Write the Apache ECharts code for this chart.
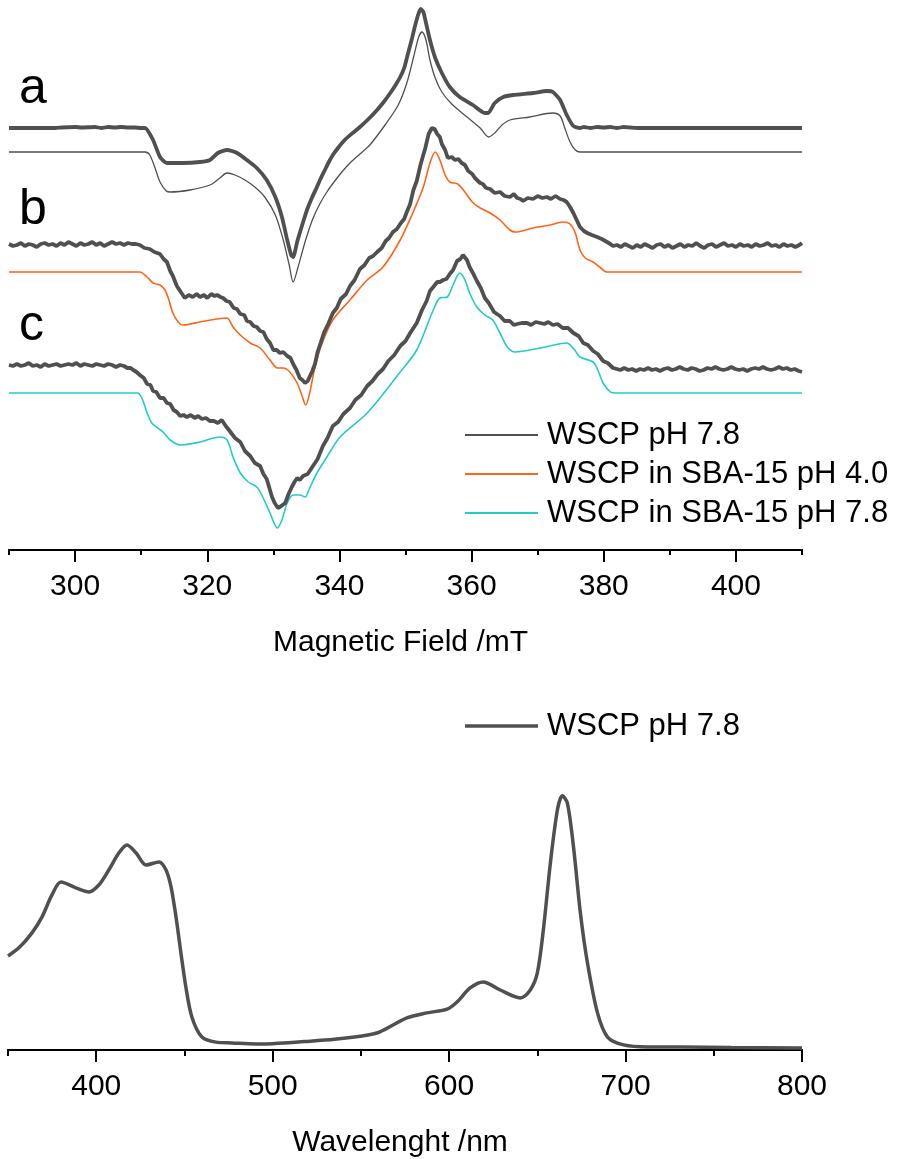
<!DOCTYPE html>
<html>
<head>
<meta charset="utf-8">
<script src="https://cdn.jsdelivr.net/npm/echarts@6/dist/echarts.min.js"></script>
<style>
  html, body { margin: 0; padding: 0; background: #fff; }
  #chart { width: 901px; height: 1159px; }
</style>
</head>
<body>
<div id="chart"></div>
<script>
// ---- EPR spectra: [field (mT), signal (a.u., relative to own baseline)] ----
const eprFieldTicksMajor = [300, 320, 340, 360, 380, 400];
const eprFieldTicksMinor = [290, 310, 330, 350, 370, 390, 410];

// a: WSCP pH 7.8, experimental
const eprA_exp = [
  [290, 0], [297, 0], [298, 0.5], [300, 1], [301, 0.5], [303, 1], [304, 0], [305, 1], [306, 0.5], [307, 1],
  [308, 0.5], [309, 0.5], [310, 0], [310.6, 0], [311.8, -12], [312.85, -29], [313.9, -35], [316.3, -35],
  [318.9, -34], [320.4, -32], [321.6, -25], [323.0, -22], [324.5, -25], [326.0, -32], [327.5, -40],
  [329.0, -52], [330.3, -69], [331.3, -89], [332.1, -112], [332.7, -127], [333.0, -129], [333.6, -114],
  [334.0, -105], [334.6, -92], [335.2, -80], [335.9, -69], [336.6, -59], [337.2, -50], [337.8, -42],
  [338.4, -34], [339.0, -27], [339.9, -19], [340.8, -12], [342.0, -5], [343.1, 1], [344.4, 9], [345.7, 18],
  [346.7, 26], [347.7, 35], [348.5, 43], [349.2, 51], [349.8, 60], [350.4, 75], [351.0, 90], [351.4, 101],
  [351.9, 113], [352.3, 119], [352.7, 116], [353.0, 108], [353.7, 88], [354.5, 70], [355.5, 55],
  [356.7, 41], [358.2, 31], [360.2, 23], [362.0, 15], [362.5, 15], [363.5, 25], [364.8, 31], [366.3, 33],
  [369.3, 35], [371.4, 37], [372.3, 36], [373.4, 28], [374.4, 13], [375.4, 2], [376.4, 0], [377, 1],
  [378, 0], [379, 1], [380, 0.5], [381, 1], [382, 0], [383, 1], [384, 0.5], [385, 0], [410, 0]
];

// a: WSCP pH 7.8, simulated
const eprA_sim = [
  [290, 0], [310.6, 0], [311.3, -3], [312.1, -16], [312.85, -30], [313.8, -39], [314.4, -40], [317.4, -38],
  [320.4, -33], [321.9, -26], [323.0, -21], [324.2, -23], [325.7, -28], [327.2, -35], [328.7, -45],
  [330.3, -63], [331.5, -88], [332.4, -113], [333.0, -130], [333.7, -116], [334.8, -90], [335.9, -68],
  [337.1, -51], [338.2, -39], [339.3, -29], [340.5, -19], [341.6, -11], [343.1, -2], [344.6, 7], [346.9, 27],
  [348.9, 47], [350.2, 69], [351.3, 97], [352.0, 115], [352.5, 120], [353.1, 112], [353.7, 92], [354.5, 74],
  [355.5, 60], [357.0, 48], [359.3, 35], [361.3, 24], [362.6, 15], [363.5, 19], [364.6, 27], [365.8, 32],
  [368.8, 35], [372.3, 39], [373.4, 36], [374.1, 24], [374.9, 10], [375.7, 2], [376.4, 0], [410, 0]
];

// b: WSCP in SBA-15 pH 4.0, experimental
const eprB_exp = [
  [290.0, 1], [290.6, -1], [291.2, 0], [291.8, 2], [292.4, -1], [293.0, 1], [293.6, 0], [294.2, -2],
  [294.8, 1], [295.4, 2], [296.0, 0], [296.6, 1], [297.2, -1], [297.8, 2], [298.4, 0], [299.0, 3],
  [299.6, 1], [300.2, -1], [300.8, 2], [301.4, 0], [302.0, 1], [302.6, 3], [303.2, 0], [303.8, 2],
  [304.4, -1], [305.0, 1], [305.6, 3], [306.2, 1], [306.8, 2], [307.4, 0], [308.0, 2], [308.6, 1],
  [309.2, 1], [309.8, 0], [310.5, -3], [311.3, -4], [312.0, -7], [312.85, -9], [313.4, -14], [313.9, -17],
  [314.4, -26], [314.8, -31], [315.4, -41], [315.9, -46], [316.6, -53], [317.2, -50], [317.8, -52],
  [318.4, -49], [318.9, -52], [319.5, -50], [320.0, -53], [320.6, -49], [321.1, -51], [321.5, -50],
  [322.0, -52], [322.4, -53], [322.9, -56], [323.4, -57], [324.0, -63], [324.5, -64], [325.0, -69],
  [325.6, -70], [326.0, -76], [326.5, -77], [327.0, -81], [327.5, -82], [328.0, -86], [328.5, -87],
  [329.0, -94], [329.5, -98], [330.0, -105], [330.5, -105], [331.0, -108], [331.5, -107], [332.1, -111],
  [332.6, -113], [333.0, -119], [333.5, -125], [334.0, -133], [334.4, -135], [334.8, -138], [335.2, -136],
  [335.5, -135], [335.9, -126], [336.3, -119], [336.7, -107], [337.1, -99], [337.7, -87], [338.3, -79],
  [339.0, -68], [339.6, -63], [340.2, -54], [341.0, -49], [341.6, -41], [342.3, -35], [343.1, -24],
  [343.8, -20], [344.5, -13], [345.1, -11], [345.7, -7], [346.4, -3], [347.0, 4], [347.5, 7], [348.1, 13],
  [348.7, 16], [349.3, 22], [349.8, 26], [350.2, 33], [350.7, 41], [351.2, 55], [351.7, 64], [352.3, 81],
  [353.0, 97], [353.5, 111], [354.0, 117], [354.4, 116], [354.8, 111], [355.2, 108], [355.5, 101],
  [356.0, 95], [356.4, 87], [357.0, 88], [357.5, 85], [358.0, 86], [358.5, 82], [359.0, 80], [359.5, 74],
  [360.1, 71], [360.5, 67], [360.8, 66], [361.3, 62], [361.7, 61], [362.2, 57], [362.8, 56], [363.5, 52],
  [364.3, 53], [365.0, 49], [365.8, 48], [366.4, 51], [366.9, 47], [367.4, 46], [367.8, 44], [368.5, 47],
  [369.3, 46], [370.0, 49], [370.7, 47], [371.4, 48], [372.0, 46], [372.7, 49], [373.4, 46], [373.9, 45],
  [374.4, 43], [374.9, 38], [375.4, 32], [375.9, 25], [376.4, 18], [377.0, 14], [377.5, 12], [378.2, 10],
  [379.0, 8], [379.7, 6], [380.5, 3], [381.0, 1], [381.4, -1], [382.0, 0], [382.6, -2], [383.2, 1],
  [383.8, -1], [384.4, -3], [385.0, 0], [385.6, -2], [386.2, 1], [386.8, -1], [387.4, -3], [388.0, 0],
  [388.6, 1], [389.2, -2], [389.8, 0], [390.4, -3], [391.0, -1], [391.6, 1], [392.2, -2], [392.8, 0],
  [393.4, -1], [394.0, 2], [394.6, -1], [395.2, -3], [395.8, 0], [396.4, 1], [397.0, -2], [397.6, 0],
  [398.2, 2], [398.8, -1], [399.4, 0], [400.0, -2], [400.6, 1], [401.2, -1], [401.8, 0], [402.4, -2],
  [403.0, 1], [403.6, -1], [404.2, 0], [404.8, 2], [405.4, -1], [406.0, 0], [406.6, -2], [407.2, 1],
  [407.8, -1], [408.4, 0], [409.0, -2], [409.6, 0], [410.0, 2]
];

// b: WSCP in SBA-15 pH 4.0, simulated
const eprB_sim = [
  [290, 0], [309.8, 0], [310.9, -5], [311.8, -11], [312.85, -13], [313.6, -18], [314.1, -26], [314.8, -41],
  [315.6, -50], [316.3, -53], [318.9, -50], [321.5, -47], [323.0, -46], [323.9, -55], [325.0, -63],
  [326.5, -71], [328.0, -76], [329.5, -88], [330.6, -96], [331.5, -96], [332.5, -100], [333.6, -111],
  [334.3, -123], [334.9, -133], [335.5, -121], [336.3, -95], [337.4, -71], [339.0, -48], [341.6, -28],
  [344.2, -8], [346.6, 5], [349.2, 32], [351.1, 59], [352.7, 85], [353.7, 109], [354.5, 120], [355.2, 112],
  [356.0, 97], [356.7, 90], [357.9, 88], [359.0, 80], [360.1, 70], [361.3, 64], [362.8, 59], [364.3, 52],
  [365.8, 42], [366.6, 40], [369.3, 44], [371.9, 47], [373.8, 50], [374.9, 48], [375.7, 39], [376.4, 22],
  [377.2, 14], [378.4, 10], [379.4, 5], [380.5, 0], [410, 0]
];

// c: WSCP in SBA-15 pH 7.8, experimental
const eprC_exp = [
  [290.0, 1], [290.6, 0], [291.2, 2], [291.8, 0], [292.4, 1], [293.0, 3], [293.6, 0], [294.2, 1],
  [294.8, -1], [295.4, 2], [296.0, 0], [296.6, 1], [297.2, 2], [297.8, 0], [298.4, 1], [299.0, 2],
  [299.6, 1], [300.2, 3], [300.8, 0], [301.4, 2], [302.0, 1], [302.6, 0], [303.2, 2], [303.8, 1],
  [304.4, 0], [305.0, 2], [305.6, 1], [306.2, -1], [306.8, 1], [307.4, 0], [307.9, -2], [308.4, -2],
  [308.8, -4], [309.3, -6], [309.8, -9], [310.4, -12], [310.9, -18], [311.4, -19], [311.8, -25],
  [312.3, -26], [312.85, -32], [313.4, -32], [313.9, -37], [314.4, -38], [314.9, -44], [315.4, -46],
  [315.9, -50], [316.4, -49], [316.9, -51], [317.5, -49], [318.1, -52], [318.6, -50], [319.2, -53],
  [319.8, -52], [320.4, -55], [321.0, -55], [321.6, -57], [322.2, -54], [322.8, -60], [323.4, -65],
  [324.2, -72], [325.0, -76], [325.7, -85], [326.5, -90], [327.2, -97], [328.0, -100], [328.5, -108],
  [329.0, -113], [329.4, -122], [329.8, -131], [330.2, -137], [330.7, -142], [331.2, -140], [331.8, -137],
  [332.3, -128], [332.8, -121], [333.2, -116], [333.6, -112], [334.0, -114], [334.5, -110], [335.2, -108],
  [336.0, -100], [336.7, -93], [337.5, -80], [338.2, -72], [339.0, -60], [339.8, -56], [340.6, -48],
  [341.6, -42], [342.4, -34], [343.3, -29], [344.2, -20], [345.0, -15], [345.8, -8], [346.6, -3],
  [347.4, 5], [348.3, 11], [349.2, 20], [350.0, 25], [350.8, 34], [351.7, 43], [352.5, 56], [353.2, 65],
  [353.7, 75], [354.2, 79], [354.8, 84], [355.2, 84], [355.7, 86], [356.2, 87], [356.7, 92], [357.2, 96],
  [357.8, 105], [358.3, 107], [358.7, 111], [359.0, 109], [359.3, 106], [359.7, 99], [360.2, 93],
  [360.8, 85], [361.4, 78], [362.0, 68], [362.6, 63], [363.4, 54], [364.3, 50], [365.0, 45], [365.8, 45],
  [366.4, 41], [366.9, 42], [367.6, 43], [368.4, 43], [369.0, 41], [369.7, 44], [370.4, 43], [371.0, 42],
  [371.6, 44], [372.3, 41], [373.0, 42], [373.8, 38], [374.6, 38], [375.4, 33], [376.2, 30], [376.9, 23],
  [377.6, 21], [378.4, 15], [379.1, 12], [379.9, 5], [380.6, 3], [381.4, -2], [382.0, -3], [382.5, -4],
  [383.1, -2], [383.7, -4], [384.3, -3], [384.9, -5], [385.5, -3], [386.1, -4], [386.7, -2], [387.3, -4],
  [387.9, -3], [388.5, -5], [389.1, -3], [389.7, -2], [390.3, -4], [390.9, -3], [391.5, -1], [392.1, -3],
  [392.7, -4], [393.3, -2], [393.9, -3], [394.5, -5], [395.1, -4], [395.7, -2], [396.3, -3], [396.9, -1],
  [397.5, -3], [398.1, -4], [398.7, -3], [399.3, -1], [399.9, -3], [400.5, -4], [401.1, -3], [401.7, -5],
  [402.3, -3], [402.9, -2], [403.5, -3], [404.1, -1], [404.7, -3], [405.3, -4], [405.9, -3], [406.5, -1],
  [407.1, -3], [407.7, -2], [408.3, -4], [408.9, -3], [409.5, -5], [410.0, -6]
];

// c: WSCP in SBA-15 pH 7.8, simulated
const eprC_sim = [
  [290, 0], [309.4, 0], [310.1, -5], [310.9, -20], [311.6, -30], [312.5, -35], [313.3, -39], [314.4, -47],
  [315.9, -52], [318.9, -49], [321.9, -44], [323.0, -47], [323.9, -64], [325.0, -80], [326.2, -89],
  [327.5, -94], [328.4, -104], [329.5, -120], [330.6, -135], [331.3, -127], [332.1, -110], [333.0, -102],
  [334.0, -102], [334.8, -104], [335.5, -95], [336.6, -80], [338.1, -64], [340.1, -44], [344.2, -20],
  [349.2, 21], [351.7, 43], [354.2, 83], [355.2, 95], [356.3, 96], [357.2, 108], [358.2, 120], [359.0, 113],
  [359.7, 100], [360.8, 86], [362.0, 78], [363.2, 73], [364.3, 60], [365.4, 46], [366.6, 41], [370.4, 45],
  [374.4, 50], [375.6, 43], [376.4, 36], [378.4, 31], [379.1, 23], [379.9, 10], [381.0, 1], [381.7, 0],
  [410, 0]
];

// vertical stacking of the six traces (a.u.)
const baselineOffsets = { aExp: 422, aSim: 398, bExp: 305, bSim: 278, cExp: 184, cSim: 157 };
const traceLabels = ['a', 'b', 'c'];
const eprLegendNames = ['WSCP pH 7.8', 'WSCP in SBA-15 pH 4.0', 'WSCP in SBA-15 pH 7.8'];

// ---- UV-Vis absorption: [wavelength (nm), absorbance (normalised)] ----
const uvTicksMajor = [400, 500, 600, 700, 800];
const uvTicksMinor = [350, 450, 550, 650, 750];
const uvName = 'WSCP pH 7.8';
const uvSpectrum = [
  [350, 0.370], [356.2, 0.402], [363.6, 0.461], [369.3, 0.524], [374.9, 0.610], [380.0, 0.661],
  [388.5, 0.638], [395.9, 0.622], [401.6, 0.650], [407.2, 0.709], [412.9, 0.776], [417.4, 0.807],
  [422.5, 0.776], [428.2, 0.728], [435.6, 0.740], [439.5, 0.709], [442.4, 0.642], [445.2, 0.524],
  [448.0, 0.382], [450.8, 0.248], [454.2, 0.130], [459.9, 0.051], [467.8, 0.031], [476.9, 0.028],
  [490.5, 0.024], [500, 0.025], [518, 0.033], [535, 0.042], [554, 0.059], [560.8, 0.071], [576.1, 0.126],
  [587.5, 0.146], [598.9, 0.161], [604.5, 0.189], [611.9, 0.244], [619.3, 0.268], [629.0, 0.236],
  [640.3, 0.205], [646.0, 0.236], [650.0, 0.303], [653.4, 0.472], [657.4, 0.736], [661.4, 0.945],
  [664.2, 1.0], [667.0, 0.972], [670.5, 0.799], [674.4, 0.539], [678.4, 0.343], [684.1, 0.146],
  [689.8, 0.051], [698.9, 0.020], [712.5, 0.012], [731.3, 0.012], [760, 0.010], [800, 0.008]
];

const FONT = "'Liberation Sans', Arial, sans-serif";
const DARK = '#505050';
const ORANGE = '#ff6418';
const CYAN = '#22cccc';

const shift = (arr, off) => arr.map(p => [p[0], p[1] + off]);

function lineSeries(name, data, color, width, smooth, xi, yi) {
  return {
    name, type: 'line', data, xAxisIndex: xi, yAxisIndex: yi,
    showSymbol: false, symbol: 'none', smooth, color,
    lineStyle: { color, width }, animation: false, silent: true
  };
}

function tickAxis(gridIndex, min, max, ticks, tickLen, labelled, name) {
  const ax = {
    type: 'value', gridIndex, min, max, position: 'bottom', offset: 0,
    splitLine: { show: false },
    axisLine: { show: true, lineStyle: { color: '#000', width: 2 } },
    axisTick: { show: true, customValues: ticks, length: tickLen, lineStyle: { color: '#000', width: 2 } },
    axisLabel: labelled
      ? { show: true, customValues: ticks, fontSize: 30, fontFamily: FONT, color: '#000', margin: 22 }
      : { show: false }
  };
  if (name) {
    ax.name = name;
    ax.nameLocation = 'middle';
    ax.nameGap = 78;
    ax.nameTextStyle = { fontSize: 30, fontFamily: FONT, color: '#000', padding: [0, 10, 0, 0] };
  }
  return ax;
}

const chart = echarts.init(document.getElementById('chart'), null, { renderer: 'canvas' });

const option = {
  backgroundColor: '#fff',
  animation: false,
  grid: [
    { left: 9, width: 793, top: 0, height: 550, containLabel: false },
    { left: 8, width: 794, top: 745, height: 305, containLabel: false }
  ],
  xAxis: [
    tickAxis(0, 290, 410, eprFieldTicksMinor, 5, false, null),
    tickAxis(0, 290, 410, eprFieldTicksMajor, 12, true, 'Magnetic Field /mT'),
    tickAxis(1, 350, 800, uvTicksMinor, 6, false, null),
    tickAxis(1, 350, 800, uvTicksMajor, 12, true, 'Wavelenght /nm')
  ],
  yAxis: [
    { type: 'value', gridIndex: 0, min: 0, max: 550, show: false },
    { type: 'value', gridIndex: 1, min: 0, max: 1.2, show: false }
  ],
  legend: [
    {
      data: eprLegendNames, orient: 'vertical', left: 465, top: 419.5,
      icon: 'rect', itemWidth: 73, itemHeight: 2, itemGap: 8, padding: 0,
      textStyle: { fontSize: 31, fontFamily: FONT, color: '#000', lineHeight: 31, padding: [0, 0, 0, 4] },
      selectedMode: false
    },
    {
      data: [uvName], orient: 'vertical', left: 465, top: 710.5,
      icon: 'rect', itemWidth: 73, itemHeight: 3.5, padding: 0,
      textStyle: { fontSize: 31, fontFamily: FONT, color: '#000', lineHeight: 31, padding: [0, 0, 0, 4] },
      selectedMode: false
    }
  ],
  graphic: [
    { type: 'text', left: 19, top: 64, style: { text: traceLabels[0], font: '50px ' + FONT, fill: '#000' } },
    { type: 'text', left: 19, top: 185, style: { text: traceLabels[1], font: '50px ' + FONT, fill: '#000' } },
    { type: 'text', left: 19, top: 301, style: { text: traceLabels[2], font: '50px ' + FONT, fill: '#000' } }
  ],
  series: [
    lineSeries(eprLegendNames[0], shift(eprA_sim, baselineOffsets.aSim), DARK, 1.3, 0.3, 0, 0),
    lineSeries('a (exp)', shift(eprA_exp, baselineOffsets.aExp), DARK, 3.8, 0.2, 0, 0),
    lineSeries(eprLegendNames[1], shift(eprB_sim, baselineOffsets.bSim), ORANGE, 1.6, 0.3, 0, 0),
    lineSeries('b (exp)', shift(eprB_exp, baselineOffsets.bExp), DARK, 3.8, false, 0, 0),
    lineSeries(eprLegendNames[2], shift(eprC_sim, baselineOffsets.cSim), CYAN, 1.6, 0.3, 0, 0),
    lineSeries('c (exp)', shift(eprC_exp, baselineOffsets.cExp), DARK, 3.8, false, 0, 0),
    lineSeries(uvName, uvSpectrum, DARK, 3.5, 0.3, 2, 1)
  ]
};

chart.setOption(option);
</script>
</body>
</html>
